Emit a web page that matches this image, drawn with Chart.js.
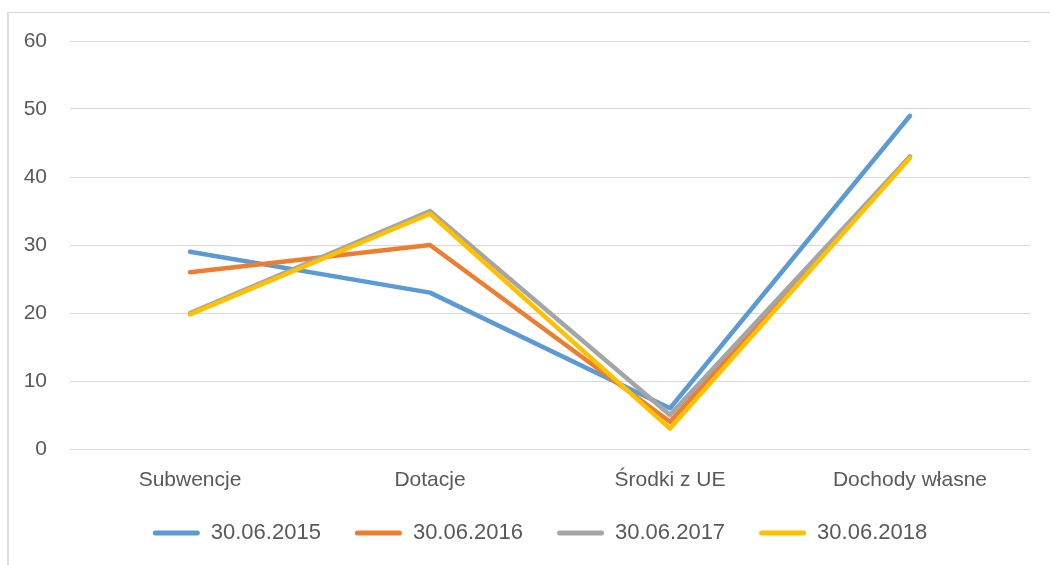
<!DOCTYPE html>
<html>
<head>
<meta charset="utf-8">
<script src="https://cdn.jsdelivr.net/npm/chart.js@4"></script>
<style>
  html, body { margin: 0; padding: 0; background: #fff; }
  #wrap { position: relative; width: 1050px; height: 565px; overflow: hidden; }
  #frame { position: absolute; left: 7px; top: 12px; width: 1100px; height: 600px; border: 1px solid #d9d9d9; border-left: 2px solid #dcdcdc; }
  #chart { position: absolute; left: 0; top: 0; }
</style>
</head>
<body>
<div id="wrap">
  <div id="frame"></div>
  <canvas id="chart" width="1050" height="565"></canvas>
</div>
<script>
// dane
const kategorie = ['Subwencje', 'Dotacje', 'Środki z UE', 'Dochody własne'];
const serie = ['30.06.2015', '30.06.2016', '30.06.2017', '30.06.2018'];
const r2015 = [29, 23, 6, 49];
const r2016 = [26, 30, 4, 43];
const r2017 = [20, 35, 5, 43];
const r2018 = [19.8, 34.6, 3, 42.8];
const kolory = ['#5b9bd5', '#ed7d31', '#a5a5a5', '#ffc000'];

const wartosci = [r2015, r2016, r2017, r2018];

Chart.defaults.font.family = "'Liberation Sans', Arial, sans-serif";
Chart.defaults.color = '#595959';

// przesuniecie legendy (wysrodkowanie jak w oryginale)
const legendaPoz = {
  id: 'legendaPoz',
  afterLayout(chart) {
    const l = chart.legend;
    l.left = 50;
    l.right = 1030;
    l.top = 488;
  }
};

new Chart(document.getElementById('chart'), {
  type: 'line',
  data: {
    labels: kategorie,
    datasets: serie.map((s, i) => ({
      label: s,
      data: wartosci[i],
      borderColor: kolory[i],
      backgroundColor: kolory[i],
      borderWidth: 4.5,
      borderCapStyle: 'round',
      borderJoinStyle: 'round',
      pointRadius: 0,
      tension: 0,
      order: 3 - i
    }))
  },
  plugins: [legendaPoz],
  options: {
    responsive: false,
    animation: false,
    layout: { padding: { left: 23, right: 20, top: 41, bottom: 3 } },
    scales: {
      x: {
        offset: true,
        grid: { display: false, drawTicks: false },
        border: { display: false },
        ticks: { padding: 19, font: { size: 21 }, color: '#595959' },
        afterFit: (s) => { s.height = 47; }
      },
      y: {
        min: 0,
        max: 60,
        grid: { color: '#d9d9d9', lineWidth: 1, drawTicks: false },
        border: { display: false },
        ticks: { stepSize: 10, padding: 23, font: { size: 21 }, color: '#595959' },
        afterFit: (s) => { s.width = 47; }
      }
    },
    plugins: {
      tooltip: { enabled: false },
      legend: {
        position: 'bottom',
        labels: {
          boxWidth: 47,
          boxHeight: 5,
          padding: 34,
          font: { size: 22 },
          color: '#595959',
          sort: (a, b) => a.datasetIndex - b.datasetIndex,
          generateLabels: (chart) => chart.data.datasets.map((d, i) => ({
            text: d.label,
            fillStyle: d.borderColor,
            strokeStyle: d.borderColor,
            lineWidth: 0,
            borderRadius: 2.5,
            datasetIndex: i,
            fontColor: '#595959'
          }))
        }
      }
    }
  }
});
</script>
</body>
</html>
